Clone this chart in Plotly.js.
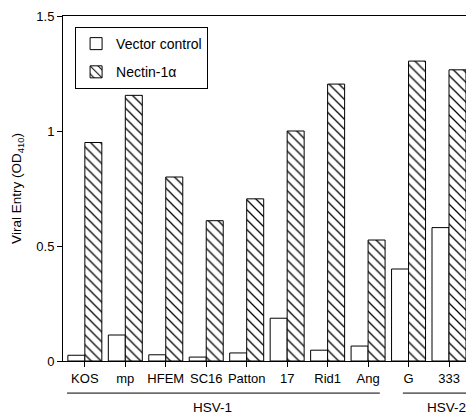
<!DOCTYPE html>
<html><head><meta charset="utf-8">
<script src="https://cdn.plot.ly/plotly-3.0.1.min.js"></script>
<style>html,body{margin:0;padding:0;background:#fff}</style>
</head><body>
<div id="chart" style="width:466px;height:416px"></div>
<script>
const categories = ["KOS","mp","HFEM","SC16","Patton","17","Rid1","Ang","G","333"];
const vectorControl = [0.025,0.113,0.027,0.017,0.035,0.186,0.047,0.065,0.40,0.58];
const nectin1a = [0.95,1.155,0.80,0.61,0.705,1.0,1.204,0.526,1.304,1.266];
const yTicks = [0,0.5,1,1.5];
const yTickText = ["0","0.5","1","1.5"];
const groupLabels = ["HSV-1","HSV-2"];

const font = "Liberation Sans, Arial, Helvetica, sans-serif";
const idx = categories.map((c,i)=>i);

const traces = [
  {type:"bar", name:"Vector control", x:idx, y:vectorControl, legendgroup:"a",
   marker:{color:"#ffffff", line:{color:"#000", width:1}}},
  {type:"bar", name:"Nectin-1α", x:idx, y:nectin1a, legendgroup:"b",
   marker:{color:"#ffffff", line:{color:"#000", width:1},
     pattern:{shape:"\\", fgcolor:"#000", bgcolor:"#fff", size:7, solidity:0.18}}}
];

const layout = {
  width:466, height:416,
  margin:{l:63, r:0, t:16, b:55},
  paper_bgcolor:"#fff", plot_bgcolor:"#fff",
  font:{family:font, size:12, color:"#000"},
  barmode:"group", bargap:0.16, bargroupgap:0,
  showlegend:true,
  legend:{x:0.03, y:0.968, xanchor:"left", yanchor:"top",
    bordercolor:"#000", borderwidth:1, bgcolor:"#fff",
    font:{family:font, size:14}, traceorder:"grouped", tracegroupgap:7},
  xaxis:{range:[-0.54,9.42], tickmode:"array", tickvals:idx, ticktext:categories,
    showline:true, linecolor:"#000", linewidth:1, mirror:true,
    ticks:"outside", ticklen:5, tickcolor:"#000", showgrid:false, zeroline:false,
    tickfont:{family:font, size:13}, fixedrange:true},
  yaxis:{range:[0,1.5], tickmode:"array", tickvals:yTicks, ticktext:yTickText,
    showline:true, linecolor:"#000", linewidth:1,
    ticks:"outside", ticklen:5, tickcolor:"#000", showgrid:false, zeroline:false,
    tickfont:{family:font, size:13},
    title:{text:"Viral Entry (OD<sub>410</sub>)", font:{family:font, size:13.5}, standoff:11}},
  shapes:[
    {type:"line", xref:"x", yref:"paper", x0:-0.44, x1:7.29, y0:-0.093, y1:-0.093, line:{color:"#000", width:1}},
    {type:"line", xref:"x", yref:"paper", x0:7.86, x1:9.42, y0:-0.093, y1:-0.093, line:{color:"#000", width:1}}
  ],
  annotations:[
    {text:groupLabels[0], xref:"x", yref:"paper", x:3.15, y:-0.136, yanchor:"middle", showarrow:false, font:{family:font, size:13.5}},
    {text:groupLabels[1], xref:"x", yref:"paper", x:8.95, y:-0.136, yanchor:"middle", showarrow:false, font:{family:font, size:13.5}}
  ]
};
Plotly.newPlot("chart", traces, layout, {displayModeBar:false, staticPlot:true});
</script>
</body></html>
